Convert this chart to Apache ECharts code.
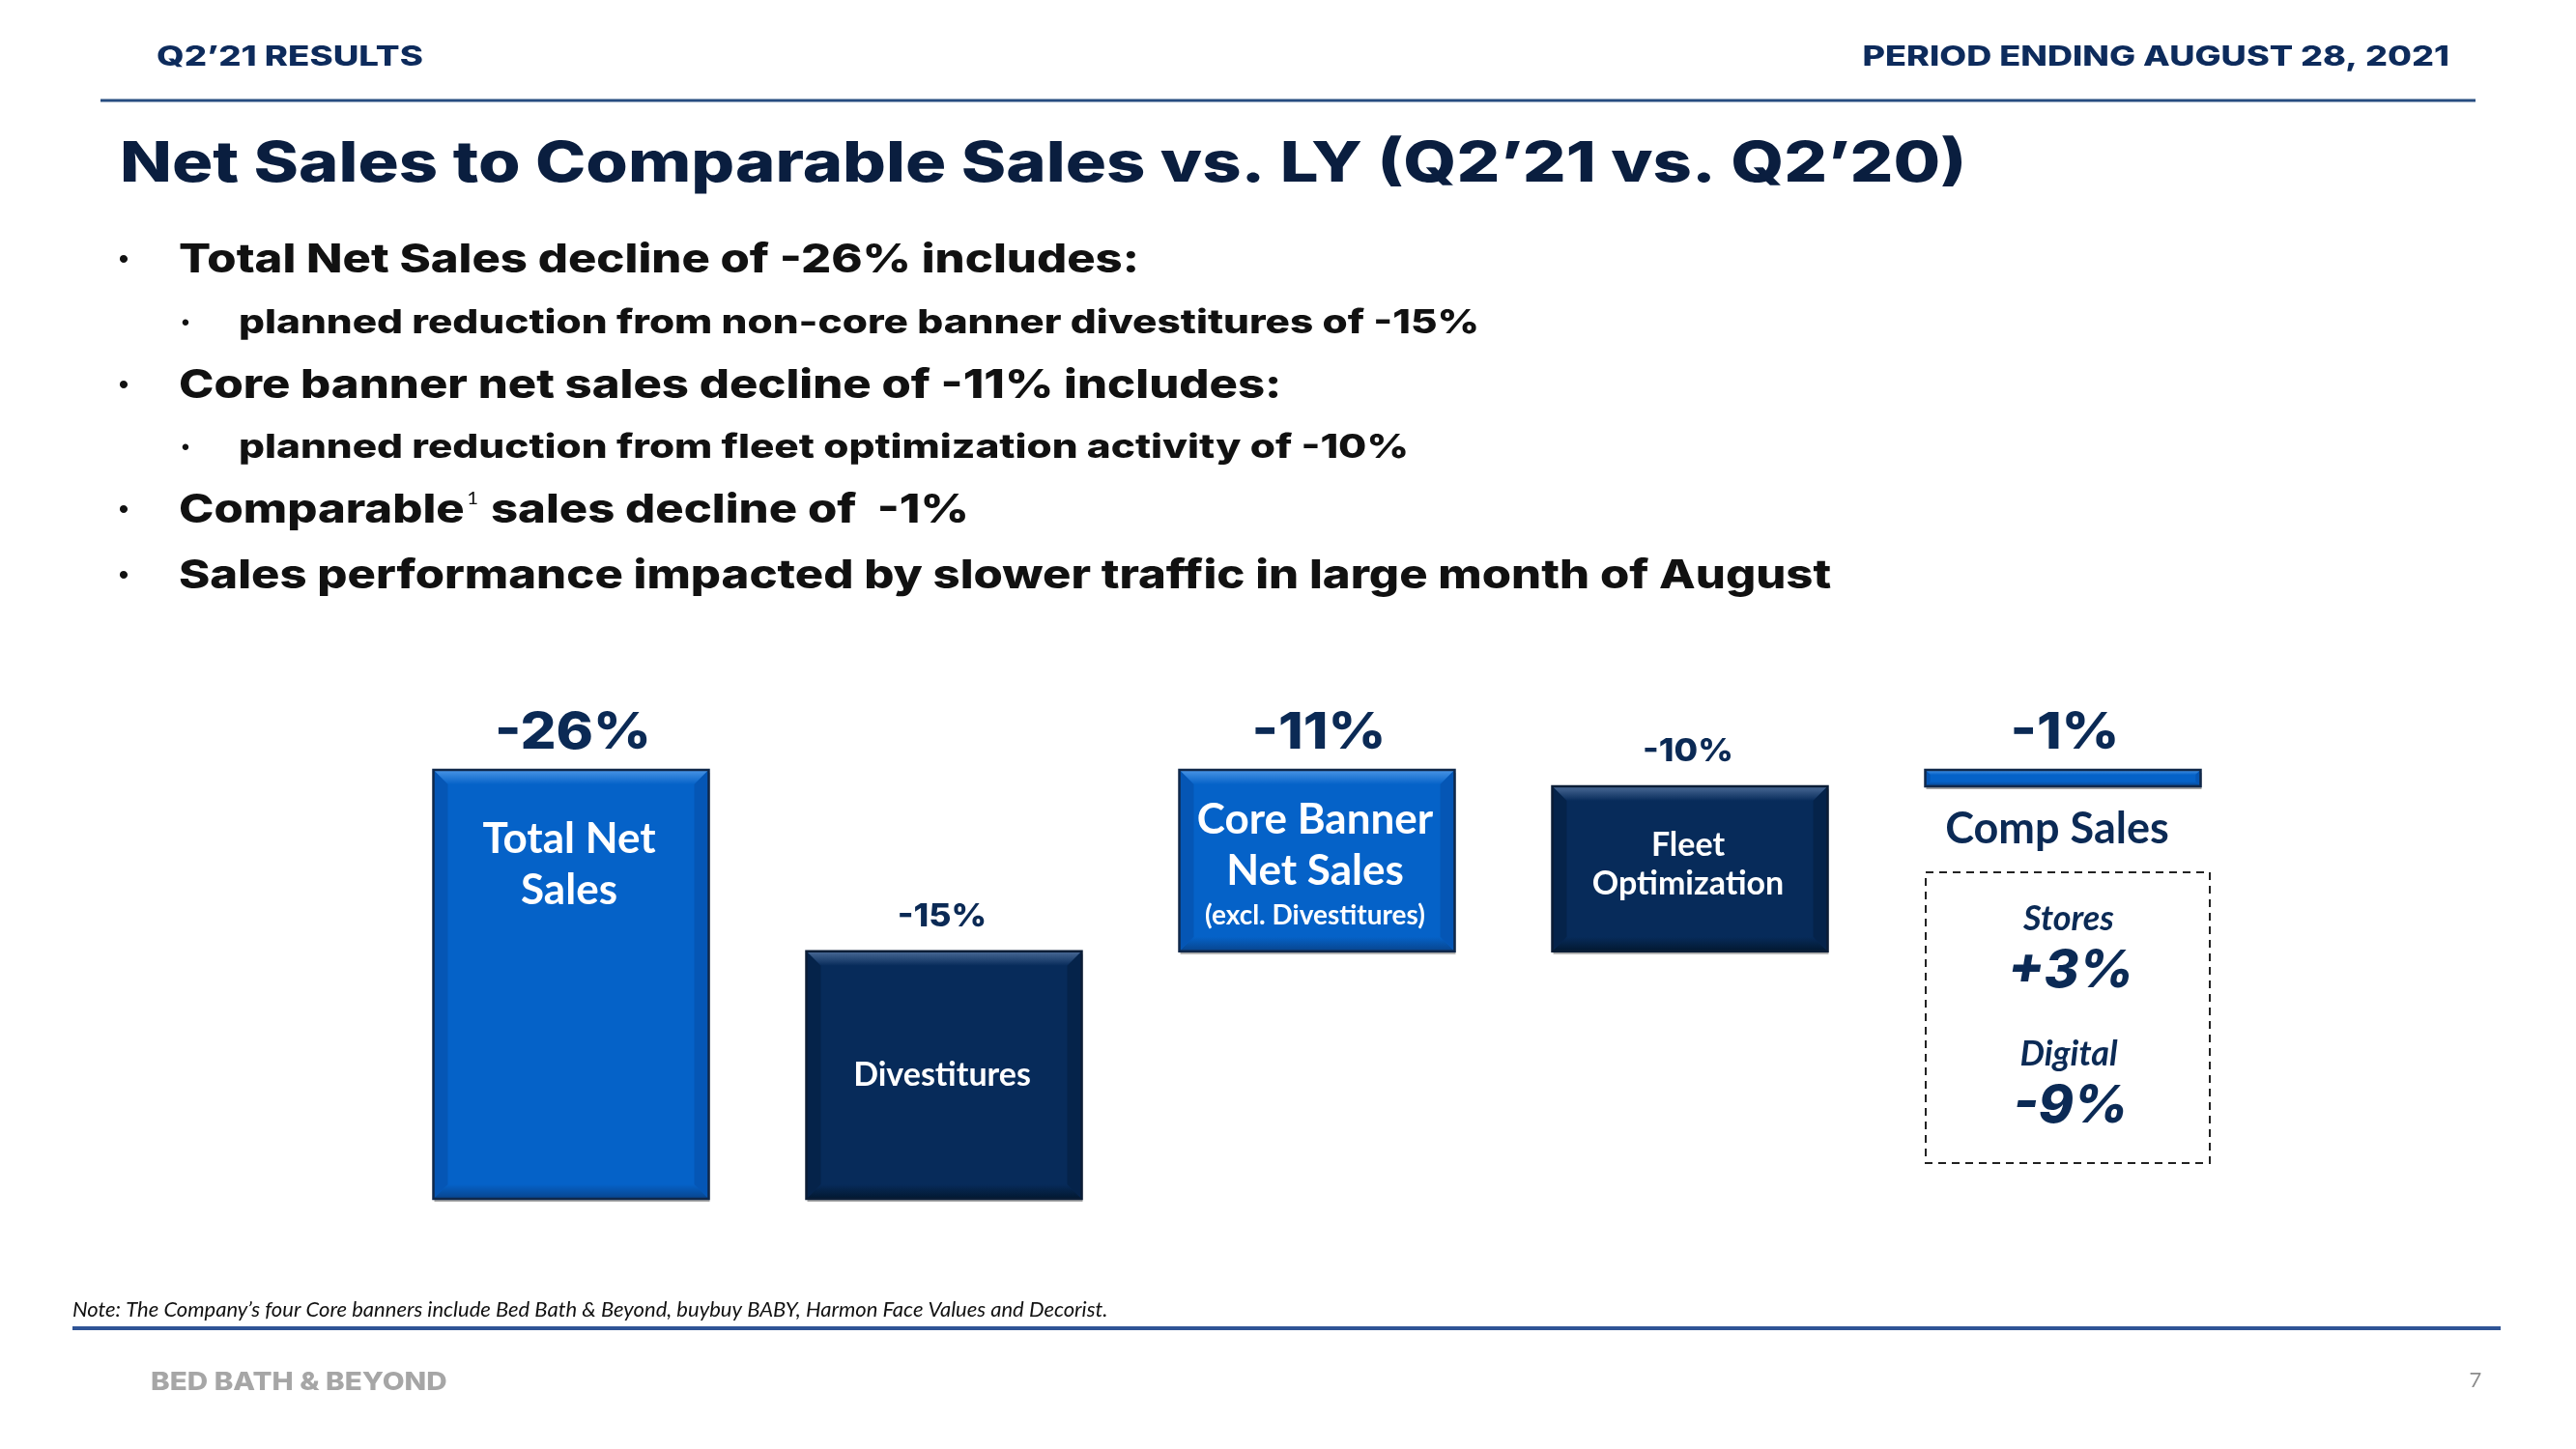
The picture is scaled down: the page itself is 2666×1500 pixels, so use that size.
<!DOCTYPE html>
<html><head><meta charset="utf-8">
<script src="https://cdn.jsdelivr.net/npm/echarts@6/dist/echarts.min.js"></script>
<style>html,body{margin:0;padding:0;background:#fff}#c{width:2666px;height:1500px}</style>
</head><body><div id="c"></div>
<script>
// ---- data ----
const categories = ['Total Net Sales', 'Divestitures', 'Core Banner Net Sales', 'Fleet Optimization', 'Comp Sales'];
const changeValues = [-26, -15, -11, -10, -1];
const startValues = [0, 0, -15, -15, -25];
const compBreakdownLabels = ['Stores', 'Digital'];
const compBreakdownValues = [3, -9];
const headerLeft = 'Q2’21 RESULTS';
const headerRight = 'PERIOD ENDING AUGUST 28, 2021';
const titleText = 'Net Sales to Comparable Sales vs. LY (Q2’21 vs. Q2’20)';
const bulletLines = [
  'Total Net Sales decline of -26% includes:',
  'planned reduction from non-core banner divestitures of -15%',
  'Core banner net sales decline of -11% includes:',
  'planned reduction from fleet optimization activity of -10%',
  '{t|Comparable}{sup|1}{t| sales decline of  -1%}',
  'Sales performance impacted by slower traffic in large month of August'
];
const bulletLevels = [1, 2, 1, 2, 1, 1];
const footnoteText = 'Note: The Company’s four Core banners include Bed Bath & Beyond, buybuy BABY, Harmon Face Values and Decorist.';
const brandText = 'BED BATH & BEYOND';
const pageNumber = '7';

// ---- styles ----
const GEO = 'Inter, "Noto Sans", sans-serif';
const GW = 800;
const CAL = 'Lato, "Open Sans", sans-serif';
const NAVY_TXT = '#0B2A55';
const majorIdx = [0, 2, 4];
const blue = {main: '#0562C8', light: '#4A95E6', dark: '#08448C', side: '#0556B5', border: '#10284A'};
const navy = {main: '#072B5A', light: '#4A6A96', dark: '#021830', side: '#05234A', border: '#0B1D36'};
const innerRich = {
  a: {fontSize: 44, fontFamily: CAL, fontWeight: 'bold', fill: '#fff', lineHeight: 53},
  b: {fontSize: 34, fontFamily: CAL, fontWeight: 'bold', fill: '#fff', lineHeight: 40},
  c: {fontSize: 28, fontFamily: CAL, fontWeight: 'bold', fill: '#fff', lineHeight: 40}
};
const innerLabels = [
  {text: '{a|Total Net}\n{a|Sales}', pos: 'top', off: 45},
  {text: '{b|Divestitures}', pos: 'center'},
  {text: '{a|Core Banner}\n{a|Net Sales}\n{c|(excl. Divestitures)}', pos: 'center', off: 4},
  {text: '{b|Fleet}\n{b|Optimization}', pos: 'center', off: -4},
  {text: '', pos: 'below'}
];

function renderItem(params, api) {
  const i = api.value(0);
  const p0 = api.coord([i, api.value(1)]);
  const p1 = api.coord([i, api.value(2)]);
  const bw = 285;
  const x = p0[0] - bw / 2;
  const y0 = Math.min(p0[1], p1[1]);
  const y1 = Math.max(p0[1], p1[1]);
  const h = y1 - y0;
  const bev = Math.min(15, h * 0.3);
  const major = majorIdx.indexOf(params.dataIndex) >= 0;
  const pal = major ? blue : navy;
  const lin = (c1, c2) => ({type: 'linear', x: 0, y: 0, x2: 0, y2: 1, colorStops: [{offset: 0, color: c1}, {offset: 1, color: c2}]});
  const children = [
    {type: 'rect', shape: {x: x + 1, y: y0 + 3, width: bw, height: h}, style: {fill: 'rgba(80,80,80,0.5)'}},
    {type: 'rect', shape: {x: x, y: y0, width: bw, height: h}, style: {fill: pal.main}},
    {type: 'polygon', shape: {points: [[x, y0], [x + bw, y0], [x + bw - bev, y0 + bev], [x + bev, y0 + bev]]}, style: {fill: lin(pal.light, pal.main)}},
    {type: 'polygon', shape: {points: [[x + bev, y1 - bev], [x + bw - bev, y1 - bev], [x + bw, y1], [x, y1]]}, style: {fill: lin(pal.main, pal.dark)}},
    {type: 'polygon', shape: {points: [[x, y0], [x + bev, y0 + bev], [x + bev, y1 - bev], [x, y1]]}, style: {fill: pal.side}},
    {type: 'polygon', shape: {points: [[x + bw, y0], [x + bw - bev, y0 + bev], [x + bw - bev, y1 - bev], [x + bw, y1]]}, style: {fill: pal.side}},
    {type: 'rect', shape: {x: x, y: y0, width: bw, height: h}, style: {fill: 'none', stroke: pal.border, lineWidth: 2.5}}
  ];
  // value label above bar
  const v = changeValues[params.dataIndex];
  children.push({
    type: 'text',
    x: p0[0] + (major ? 2 : -2), y: y0 - (major ? 38 : 36),
    scaleX: major ? 1.12 : 1.08,
    style: {
      text: v + '%', x: 0, y: 0,
      fill: NAVY_TXT, fontSize: major ? 52 : 33, fontWeight: GW, fontFamily: GEO,
      align: 'center', verticalAlign: 'middle'
    }
  });
  const lab = innerLabels[params.dataIndex];
  if (lab.text) {
    let ty, va;
    if (lab.pos === 'top') { ty = y0 + lab.off; va = 'top'; }
    else { ty = (y0 + y1) / 2 + (lab.off || 0); va = 'middle'; }
    children.push({
      type: 'text',
      style: {text: lab.text, x: p0[0] - 2, y: ty, align: 'center', verticalAlign: va, rich: innerRich}
    });
  } else {
    children.push({
      type: 'text',
      style: {
        text: categories[params.dataIndex], x: p0[0] - 6, y: y1 + 44,
        fill: NAVY_TXT, fontSize: 45, fontWeight: 'bold', fontFamily: CAL,
        align: 'center', verticalAlign: 'middle'
      }
    });
  }
  return {type: 'group', children: children};
}

// ---- graphic texts ----
const txt = (text, x, y, o, sx) => ({
  type: 'text', x: x, y: y, silent: true, scaleX: sx || 1,
  style: Object.assign({text: text, x: 0, y: 0, fill: '#111', align: 'left', verticalAlign: 'middle',
    textAlign: (o && o.align) || 'left', textVerticalAlign: 'middle'}, o || {})
});
const graphics = [];
graphics.push(txt(headerLeft, 162, 60, {fontSize: 28, fontWeight: GW, fontFamily: GEO, fill: '#0D2B5C'}, 1.31));
graphics.push(txt(headerRight, 2535, 60, {fontSize: 28, fontWeight: GW, fontFamily: GEO, fill: '#0D2B5C', align: 'right'}, 1.29));
graphics.push({type: 'line', shape: {x1: 104, y1: 104, x2: 2562, y2: 104}, style: {stroke: '#274D80', lineWidth: 3}});
graphics.push(txt(titleText, 124, 171, {fontSize: 58, fontWeight: GW, fontFamily: GEO, fill: '#0A1E3F'}, 1.215));
const bulletY = [270, 335, 400, 464, 529, 597];
bulletLines.forEach((line, k) => {
  const lvl = bulletLevels[k];
  const fs = lvl === 1 ? 41 : 34;
  const bx = lvl === 1 ? 128 : 192;
  const tx = lvl === 1 ? 185 : 247;
  graphics.push(txt('•', bx, bulletY[k], {fontSize: lvl === 1 ? 30 : 24, fontFamily: 'Arial, "Liberation Sans", sans-serif', fill: '#111', align: 'center'}));
  const o = {fontSize: fs, fontWeight: GW, fontFamily: GEO, fill: '#111'};
  if (line.indexOf('{sup|') >= 0) {
    o.rich = {
      t: {fontSize: fs, fontWeight: GW, fontFamily: GEO, fill: '#111'},
      sup: {fontSize: 17, fontFamily: CAL, fill: '#111', verticalAlign: 'top', padding: [0, 2, 14, 2]}
    };
  }
  graphics.push(txt(line, tx, bulletY[k], o, lvl === 1 ? 1.195 : 1.245));
});
// comp breakdown dashed box
graphics.push({type: 'rect', shape: {x: 1993, y: 903, width: 294, height: 301},
  style: {fill: 'none', stroke: '#222', lineWidth: 2, lineDash: [8, 6]}});
compBreakdownLabels.forEach((lab, k) => {
  const cy = 951 + k * 140;
  const v = compBreakdownValues[k];
  graphics.push(txt(lab, 2141, cy, {fontSize: 36, fontWeight: 'bold', fontStyle: 'italic', fontFamily: CAL, fill: NAVY_TXT, align: 'center'}));
  graphics.push(txt((v > 0 ? '+' : '') + v + '%', 2143, cy + 55, {fontSize: 54, fontWeight: GW, fontStyle: 'italic', fontFamily: GEO, fill: NAVY_TXT, align: 'center'}, 1.02));
});
graphics.push(txt(footnoteText, 75, 1356, {fontSize: 22, fontStyle: 'italic', fontFamily: CAL, fill: '#111'}));
graphics.push({type: 'line', shape: {x1: 75, y1: 1375, x2: 2588, y2: 1375}, style: {stroke: '#2F5496', lineWidth: 4}});
graphics.push(txt(brandText, 156, 1431, {fontSize: 26, fontWeight: GW, fontFamily: GEO, fill: '#A6A6A6'}, 1.14));
graphics.push(txt(pageNumber, 2562, 1429, {fontSize: 22, fontFamily: CAL, fill: '#8C8C8C', align: 'center'}));

const chart = echarts.init(document.getElementById('c'), null, {renderer: 'canvas'});
chart.setOption({
  animation: false,
  backgroundColor: '#fff',
  grid: {left: 398, right: 338, top: 797, bottom: 259},
  xAxis: {type: 'category', data: categories, show: false},
  yAxis: {type: 'value', min: -26, max: 0, inverse: true, show: false},
  series: [{
    type: 'custom',
    renderItem: renderItem,
    clip: false,
    encode: {x: 0, y: [1, 2]},
    data: categories.map((c, i) => [i, startValues[i], startValues[i] + changeValues[i]])
  }],
  graphic: graphics
});
</script></body></html>
